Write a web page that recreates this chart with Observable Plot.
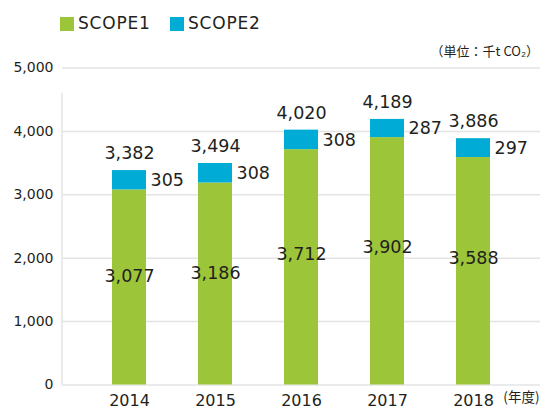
<!DOCTYPE html>
<html>
<head>
<meta charset="utf-8">
<script src="https://cdn.jsdelivr.net/npm/d3@7"></script>
<script src="https://cdn.jsdelivr.net/npm/@observablehq/plot@0.6"></script>
<style>
  body { margin: 0; background: #fff; font-family: "DejaVu Sans", "Noto Sans CJK JP", sans-serif; color: #231f20; }
  #wrap { position: relative; width: 542px; }
  #head { position: relative; height: 56px; }
  .sw { position: absolute; top: 17px; width: 14px; height: 14px; }
  .lt { position: absolute; top: 13px; font-size: 17px; letter-spacing: 0.8px; line-height: 20px; color: #231f20; }
  #unit { position: absolute; right: 3px; top: 42px; font-size: 13px; line-height: 18px; color: #231f20; font-family: "Noto Sans CJK JP", sans-serif; }
</style>
</head>
<body>
<div id="wrap">
  <div id="head"></div>
  <div id="chart"></div>
</div>
<script>
const years = ["2014", "2015", "2016", "2017", "2018"];
const scope1 = [3077, 3186, 3712, 3902, 3588];
const scope2 = [305, 308, 308, 287, 297];
const totals = [3382, 3494, 4020, 4189, 3886];
const seriesNames = ["SCOPE1", "SCOPE2"];
const seriesColors = ["#9cc53a", "#00acd6"];
const yTicks = [0, 1000, 2000, 3000, 4000, 5000];
const axisBreak = 4600;
const unitLabel = "（単位：千t CO₂）";
const yearUnit = "(年度)";

const gridColor = "#e4e4e4";
const textColor = "#231f20";
const fmt = d3.format(",");

// legend
const head = document.getElementById("head");
const legendPos = [[60, 78], [170, 188]];
seriesNames.forEach((n, i) => {
  const sw = document.createElement("div");
  sw.className = "sw"; sw.style.left = legendPos[i][0] + "px"; sw.style.background = seriesColors[i];
  head.appendChild(sw);
  const t = document.createElement("div");
  t.className = "lt"; t.style.left = legendPos[i][1] + "px"; t.textContent = n;
  head.appendChild(t);
});
const u = document.createElement("div");
u.id = "unit"; u.textContent = unitLabel; head.appendChild(u);

// data
const rows = [];
years.forEach((y, i) => {
  rows.push({year: y, series: seriesNames[0], value: scope1[i]});
  rows.push({year: y, series: seriesNames[1], value: scope2[i]});
});
const info = years.map((y, i) => ({year: y, s1: scope1[i], s2: scope2[i], total: totals[i]}));

const axisLine = (index, scales, values, dimensions) =>
  d3.create("svg:line")
    .attr("x1", dimensions.marginLeft).attr("x2", dimensions.marginLeft)
    .attr("y1", scales.y(0)).attr("y2", scales.y(axisBreak))
    .attr("stroke", gridColor).attr("stroke-width", 1.5)
    .node();

const chart = Plot.plot({
  width: 542,
  height: 356,
  marginTop: 11.5,
  marginBottom: 27.5,
  marginLeft: 62,
  marginRight: 2,
  style: {fontFamily: "'DejaVu Sans', sans-serif", color: textColor, background: "#fff"},
  x: {type: "band", domain: years, paddingInner: 0.6, paddingOuter: 0.56, align: 0.5},
  y: {domain: [0, 5000]},
  color: {domain: seriesNames, range: seriesColors},
  marks: [
    Plot.ruleY(yTicks, {stroke: gridColor, strokeWidth: 1.5}),
    axisLine,
    Plot.barY(rows, {x: "year", y: "value", fill: "series"}),
    Plot.axisY({ticks: yTicks, tickFormat: fmt, tickSize: 0, tickPadding: 9, fontSize: 14, fill: textColor}),
    Plot.axisX({tickSize: 0, tickPadding: 10, fontSize: 16, fill: textColor, label: null}),
    Plot.text([yearUnit], {frameAnchor: "bottom-right", textAnchor: "end", dx: -1, dy: 17, fontSize: 13.5, fill: textColor, fontFamily: "'Noto Sans CJK JP', sans-serif"}),
    // totals above bars
    Plot.text(info, {x: "year", y: "total", text: d => fmt(d.total), dy: -17, fontSize: 17.5, fill: textColor, lineAnchor: "middle"}),
    // scope2 to the right of blue segment
    Plot.text(info, {x: "year", y: d => d.s1 + d.s2 / 2, text: d => fmt(d.s2), textAnchor: "start", dx: 21, fontSize: 17.5, fill: textColor, lineAnchor: "middle"}),
    // scope1 inside green segment
    Plot.text(info, {x: "year", y: d => d.s1 * 0.555, text: d => fmt(d.s1), fontSize: 17.5, fill: textColor, lineAnchor: "middle"})
  ]
});
document.getElementById("chart").appendChild(chart);
</script>
</body>
</html>
